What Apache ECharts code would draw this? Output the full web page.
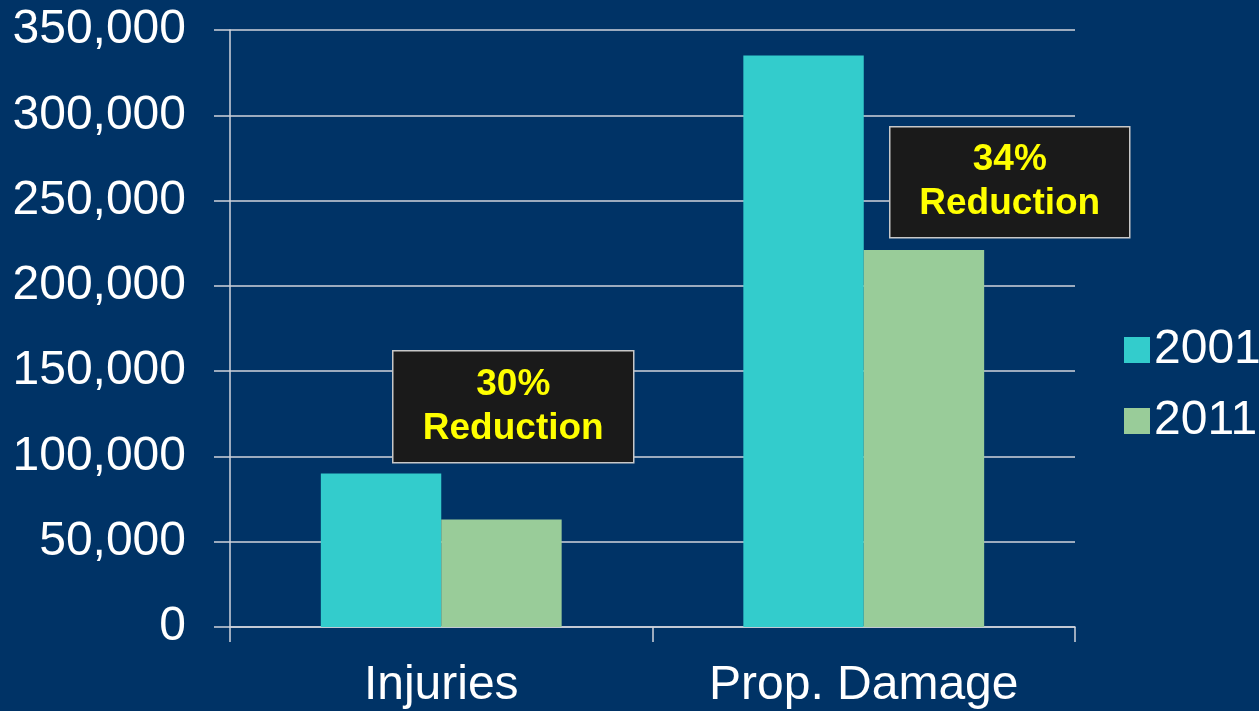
<!DOCTYPE html>
<html>
<head>
<meta charset="utf-8">
<script src="https://cdn.jsdelivr.net/npm/echarts@6/dist/echarts.min.js"></script>
<style>
  html, body { margin: 0; padding: 0; background: #003366; }
  #chart { width: 1259px; height: 711px; }
</style>
</head>
<body>
<div id="chart"></div>
<script>
const categories = ['Injuries', 'Prop. Damage'];
const values2001 = [90000, 335000];
const values2011 = [63000, 221000];
const seriesNames = ['2001', '2011'];
const callouts = ['30%\nReduction', '34%\nReduction'];

const chart = echarts.init(document.getElementById('chart'));
const font = '"Liberation Sans", Arial, sans-serif';
const lineColor = '#d0d4dc';

const option = {
  backgroundColor: '#003366',
  animation: false,
  grid: { left: 230, right: 184, top: 30, bottom: 84, containLabel: false },
  legend: {
    orient: 'vertical',
    left: 1119,
    top: 321,
    itemWidth: 26,
    itemHeight: 26,
    itemGap: 23,
    icon: 'rect',
    textStyle: { color: '#ffffff', fontSize: 48, fontFamily: font, lineHeight: 48, padding: [0, 0, 0, -1] },
    data: seriesNames
  },
  xAxis: {
    type: 'category',
    data: categories,
    axisLine: { lineStyle: { color: lineColor, width: 1.5 } },
    axisTick: { show: true, length: 15, lineStyle: { color: lineColor, width: 1.5 } },
    axisLabel: { color: '#ffffff', fontSize: 48, fontFamily: font, margin: 35 }
  },
  yAxis: {
    type: 'value',
    min: 0,
    max: 350000,
    interval: 50000,
    axisLine: { show: true, lineStyle: { color: lineColor, width: 1.5 } },
    axisTick: { show: true, length: 16, lineStyle: { color: lineColor, width: 1.5 } },
    splitLine: { lineStyle: { color: lineColor, width: 1.5 } },
    axisLabel: {
      color: '#ffffff', fontSize: 48, fontFamily: font, margin: 44,
      formatter: v => v.toLocaleString('en-US')
    }
  },
  series: [
    {
      name: seriesNames[0], type: 'bar', data: values2001,
      barGap: '0%', barCategoryGap: '43%',
      itemStyle: { color: '#33cccc' }
    },
    {
      name: seriesNames[1], type: 'bar', data: values2011,
      barGap: '0%', barCategoryGap: '43%',
      itemStyle: { color: '#99cc99' }
    }
  ],
  graphic: [
    {
      type: 'group', left: 392, top: 350, z: 100,
      children: [
        { type: 'rect', z: 100, shape: { x: 0, y: 0, width: 241, height: 112 },
          style: { fill: '#1a1a1a', stroke: '#c8c8c8', lineWidth: 1.5 } },
        { type: 'text', z: 101, x: 120.5, y: 56,
          style: { text: callouts[0], fill: '#ffff00', font: 'bold 37px ' + font,
                   align: 'center', verticalAlign: 'middle', lineHeight: 44 } }
      ]
    },
    {
      type: 'group', left: 889, top: 126, z: 100,
      children: [
        { type: 'rect', z: 100, shape: { x: 0, y: 0, width: 240, height: 111 },
          style: { fill: '#1a1a1a', stroke: '#c8c8c8', lineWidth: 1.5 } },
        { type: 'text', z: 101, x: 120, y: 55.5,
          style: { text: callouts[1], fill: '#ffff00', font: 'bold 37px ' + font,
                   align: 'center', verticalAlign: 'middle', lineHeight: 44 } }
      ]
    }
  ]
};

chart.setOption(option);
</script>
</body>
</html>
